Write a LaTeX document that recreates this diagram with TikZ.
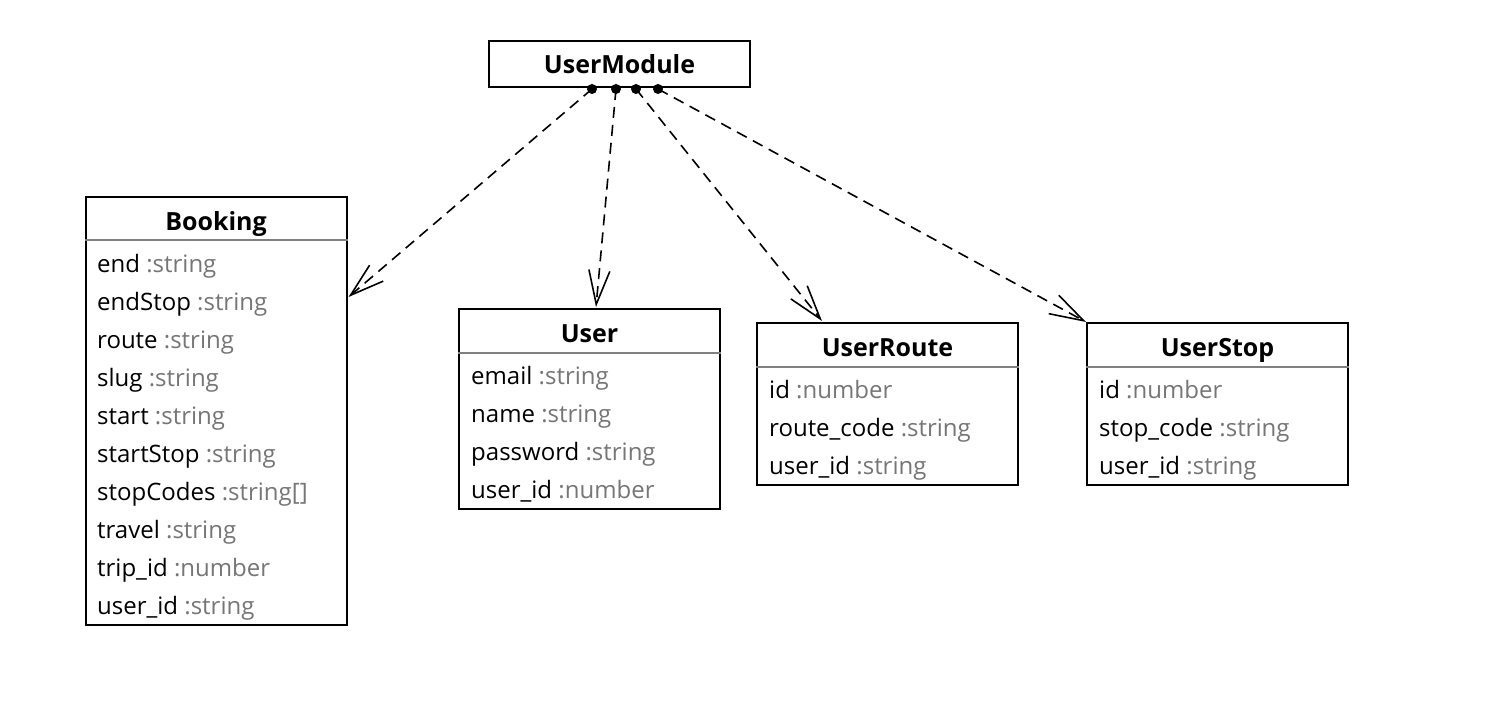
\documentclass[tikz,border=0pt]{standalone}
\usepackage{fontspec}
\setmainfont{Open Sans}
\usetikzlibrary{arrows.meta,calc}
\definecolor{typegray}{RGB}{118,118,118}
\definecolor{sepgray}{RGB}{128,128,128}
\newcommand\typ[1]{\textcolor{typegray}{#1}}
\begin{document}
\begin{tikzpicture}[x=1pt,y=-1pt,
  box/.style={draw=black,line width=2pt,minimum width=261pt,inner sep=0pt,fill=white},
  title/.style={font=\fontsize{25}{29}\selectfont\bfseries,inner sep=0pt,anchor=base},
  attr/.style={font=\fontsize{24}{28}\selectfont,anchor=base west,inner sep=0pt},
  sep/.style={draw=sepgray,line width=1.6pt},
  dep/.style={draw=black,line width=1.6pt,dash pattern=on 11pt off 7pt,
    -{Straight Barb[length=34pt,width=21pt,line width=1.6pt]}},
  dot/.style={circle,fill=black,inner sep=0pt,minimum size=10pt}]
\useasboundingbox (0,0) rectangle (1490,714);
% UserModule
\node[box,minimum height=46pt] (um) at (619.5,64) {};
\node[title] (umt) at (619.5,74) {UserModule};
% Booking
\node[box,minimum height=428pt] (bk) at (216,411) {};
\node[title] (bkt) at (216,230) {Booking};
\draw[sep] (bk.west |- 0,240) -- (bk.east |- 0,240);
\node[attr] (bk1) at (97,272) {end \typ{:string}};
\node[attr] (bk2) at (97,310) {endStop \typ{:string}};
\node[attr] (bk3) at (97,348) {route \typ{:string}};
\node[attr] (bk4) at (97,386) {slug \typ{:string}};
\node[attr] (bk5) at (97,424) {start \typ{:string}};
\node[attr] (bk6) at (97,462) {startStop \typ{:string}};
\node[attr] (bk7) at (97,500) {stopCodes \typ{:string[]}};
\node[attr] (bk8) at (97,538) {travel \typ{:string}};
\node[attr] (bk9) at (97,576) {trip\_id \typ{:number}};
\node[attr] (bk10) at (97,614) {user\_id \typ{:string}};
% User
\node[box,minimum height=200pt] (us) at (589.5,409) {};
\node[title] (ust) at (589.5,342) {User};
\draw[sep] (us.west |- 0,353) -- (us.east |- 0,353);
\node[attr] (us1) at (471,384) {email \typ{:string}};
\node[attr] (us2) at (471,422) {name \typ{:string}};
\node[attr] (us3) at (471,460) {password \typ{:string}};
\node[attr] (us4) at (471,498) {user\_id \typ{:number}};
% UserRoute
\node[box,minimum height=162pt] (ur) at (887.5,404) {};
\node[title] (urt) at (887.5,356) {UserRoute};
\draw[sep] (ur.west |- 0,367) -- (ur.east |- 0,367);
\node[attr] (ur1) at (769,398) {id \typ{:number}};
\node[attr] (ur2) at (769,436) {route\_code \typ{:string}};
\node[attr] (ur3) at (769,474) {user\_id \typ{:string}};
% UserStop
\node[box,minimum height=162pt] (ut) at (1217.5,404) {};
\node[title] (utt) at (1217.5,356) {UserStop};
\draw[sep] (ut.west |- 0,367) -- (ut.east |- 0,367);
\node[attr] (ut1) at (1099,398) {id \typ{:number}};
\node[attr] (ut2) at (1099,436) {stop\_code \typ{:string}};
\node[attr] (ut3) at (1099,474) {user\_id \typ{:string}};
% connectors
\coordinate (s1) at ($(um.south west)+(104,1)$);
\coordinate (s2) at ($(um.south west)+(128,1)$);
\coordinate (s3) at ($(um.south west)+(148,1)$);
\coordinate (s4) at ($(um.south west)+(170,1)$);
\coordinate (e1) at ($(bk.north east)+(1,101)$);
\coordinate (e2) at ($(us.north west)+(138,-1)$);
\coordinate (e3) at ($(ur.north west)+(66,-1)$);
\coordinate (e4) at (ut.north west);
\draw[dep] (s1) -- (e1);
\draw[dep] (s2) -- (e2);
\draw[dep] (s3) -- (e3);
\draw[dep] (s4) -- (e4);
\node[dot] (d1) at (s1) {};
\node[dot] (d2) at (s2) {};
\node[dot] (d3) at (s3) {};
\node[dot] (d4) at (s4) {};
\end{tikzpicture}
\end{document}
